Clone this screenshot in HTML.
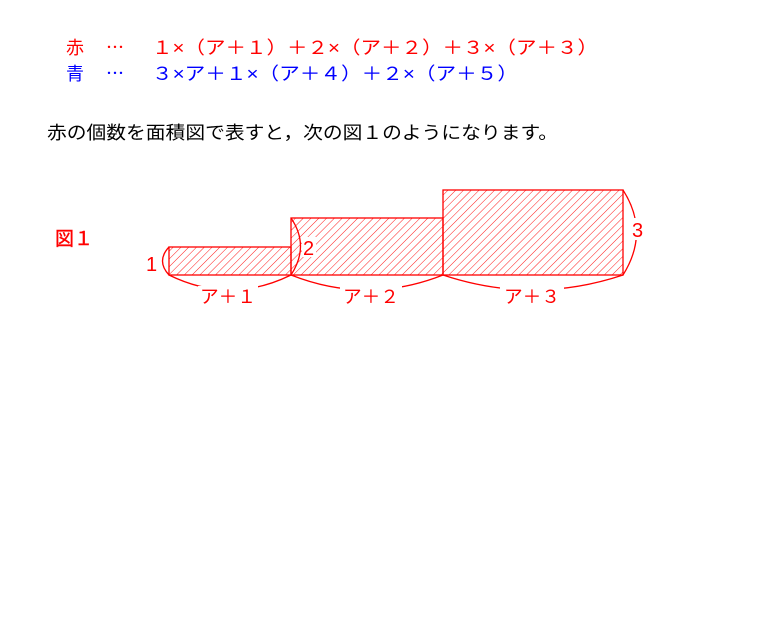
<!DOCTYPE html>
<html><head><meta charset="utf-8"><style>
html,body{margin:0;padding:0;background:#fff;}
svg{display:block;}
text{font-family:"Liberation Sans","Noto Sans CJK JP",sans-serif;}
</style></head><body>
<svg width="776" height="634" xmlns="http://www.w3.org/2000/svg">
<defs>
<pattern id="h" patternUnits="userSpaceOnUse" width="5.5" height="5.5" patternTransform="rotate(45)">
<line x1="0" y1="0" x2="0" y2="6" stroke="#f00" stroke-width="0.9"/>
</pattern>
</defs>
<text x="66" y="54" font-size="18" fill="#f00">赤</text>
<text x="106" y="54" font-size="18" fill="#f00">⋯</text>
<text x="152" y="54" font-size="18" fill="#f00" textLength="446" lengthAdjust="spacingAndGlyphs">１×（ア＋１）＋２×（ア＋２）＋３×（ア＋３）</text>
<text x="66" y="80" font-size="18" fill="#00f">青</text>
<text x="106" y="80" font-size="18" fill="#00f">⋯</text>
<text x="152" y="80" font-size="18" fill="#00f" textLength="366" lengthAdjust="spacingAndGlyphs">３×ア＋１×（ア＋４）＋２×（ア＋５）</text>
<text x="47" y="139" font-size="18" fill="#000" textLength="511" lengthAdjust="spacingAndGlyphs">赤の個数を面積図で表すと，次の図１のようになります。</text>
<text x="55" y="245" font-size="19" fill="#f00" stroke="#f00" stroke-width="0.4">図１</text>
<g stroke="#f00" stroke-width="1.3">
<rect x="169" y="247" width="122" height="28" fill="url(#h)"/>
<rect x="291" y="218" width="152" height="57" fill="url(#h)"/>
<rect x="443" y="190" width="180" height="85" fill="url(#h)"/>
</g>
<g stroke="#f00" stroke-width="1.3" fill="none">
<path d="M169,275 Q230,305 291,275"/>
<path d="M291,275 Q367,305 443,275"/>
<path d="M443,275 Q533,305 623,275"/>
<path d="M169,247 Q156,261 169,275"/>
<path d="M291,218 Q310,246 291,275"/>
<path d="M623,190 Q650,232 623,275"/>
</g>
<rect x="302" y="237" width="14" height="20" fill="#fff"/>
<rect x="630" y="218" width="16" height="22" fill="#fff"/>
<g font-size="20" fill="#f00">
<text x="146" y="271">1</text>
<text x="303" y="255">2</text>
<text x="632" y="237">3</text>
<rect x="198" y="286" width="60" height="20" fill="#fff"/>
<rect x="340" y="286" width="62" height="20" fill="#fff"/>
<rect x="500" y="286" width="64" height="20" fill="#fff"/>
<text x="200" y="303" font-size="18" textLength="56" lengthAdjust="spacingAndGlyphs">ア＋１</text>
<text x="343" y="303" font-size="18" textLength="56" lengthAdjust="spacingAndGlyphs">ア＋２</text>
<text x="504" y="303" font-size="18" textLength="56" lengthAdjust="spacingAndGlyphs">ア＋３</text>
</g>
</svg>
</body></html>
